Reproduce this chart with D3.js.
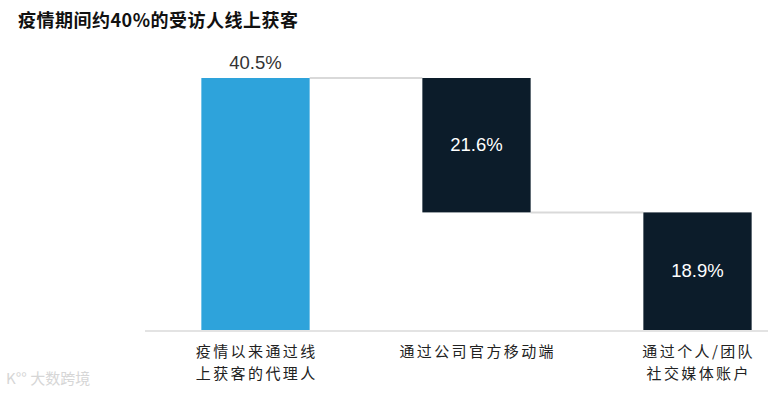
<!DOCTYPE html>
<html>
<head>
<meta charset="utf-8">
<script src="https://cdn.jsdelivr.net/npm/d3@7"></script>
<style>
  body { margin: 0; background: #fff; }
  svg text { font-family: "Noto Sans CJK SC", "Liberation Sans", sans-serif; }
</style>
</head>
<body>
<svg id="chart" width="768" height="394"></svg>
<script>
// data
const categories = ["c1", "c2", "c3"];
const labelLines = [
    ["疫情以来通过线", "上获客的代理人"],
    ["通过公司官方移动端"],
    ["通过个人/团队", "社交媒体账户"]
];
const values = [40.5, 21.6, 18.9];
const isTotal = [true, false, false];

const svg = d3.select("#chart");

// waterfall: first bar is the total, next ones go down from it
let running = values[0];
const bars = values.map((v, i) => {
    if (isTotal[i]) return { key: categories[i], v: v, y0: 0, y1: v, total: true };
    const b = { key: categories[i], v: v, y0: running - v, y1: running, total: false };
    running -= v;
    return b;
});

const x = d3.scaleBand()
    .domain(categories)
    .range([145, 808])
    .paddingInner(0.51)
    .paddingOuter(0.255);

const y = d3.scaleLinear()
    .domain([0, values[0]])
    .range([330, 78]);

// title
svg.append("text")
    .attr("x", 18)
    .attr("y", 27)
    .attr("font-size", 18)
    .attr("font-weight", "bold")
    .attr("letter-spacing", 0.5)
    .attr("fill", "#111")
    .text("疫情期间约40%的受访人线上获客");

// connectors
bars.slice(0, -1).forEach((b, i) => {
    const level = b.total ? b.y1 : b.y0;
    svg.append("line")
        .attr("x1", x(b.key) + x.bandwidth())
        .attr("x2", x(categories[i + 1]))
        .attr("y1", y(level))
        .attr("y2", y(level))
        .attr("stroke", "#d9d9d9")
        .attr("stroke-width", 2);
});

// bars
svg.selectAll("rect.bar")
    .data(bars)
    .join("rect")
    .attr("class", "bar")
    .attr("x", d => x(d.key))
    .attr("width", x.bandwidth())
    .attr("y", d => y(d.y1))
    .attr("height", d => y(d.y0) - y(d.y1))
    .attr("fill", d => d.total ? "#2ea3db" : "#0c1c2a");

// baseline
svg.append("line")
    .attr("x1", 145).attr("x2", 768)
    .attr("y1", y(0) + 1).attr("y2", y(0) + 1)
    .attr("stroke", "#e3e3e3")
    .attr("stroke-width", 2);

// value labels
svg.selectAll("text.val")
    .data(bars)
    .join("text")
    .attr("class", "val")
    .attr("x", d => x(d.key) + x.bandwidth() / 2)
    .attr("y", d => d.total ? y(d.y1) - 9 : (y(d.y0) + y(d.y1)) / 2 + 6)
    .attr("text-anchor", "middle")
    .attr("font-size", 18.5)
    .attr("fill", d => d.total ? "#333" : "#fff")
    .style("font-family", "'Liberation Sans', Arial, sans-serif")
    .text(d => d.v.toFixed(1) + "%");

// category labels, one text per line
const ls = 2.4;
categories.forEach((c, i) => {
    labelLines[i].forEach((line, j) => {
        svg.append("text")
            .attr("x", x(c) + x.bandwidth() / 2 + ls / 2)
            .attr("y", 357 + j * 22)
            .attr("text-anchor", "middle")
            .attr("font-size", 15)
            .attr("letter-spacing", ls)
            .attr("fill", "#222")
            .text(line);
    });
});

// watermark
svg.append("text")
    .attr("x", 6)
    .attr("y", 384)
    .attr("font-size", 15)
    .attr("fill", "#d6d6d6")
    .text("K°° 大数跨境");
</script>
</body>
</html>
